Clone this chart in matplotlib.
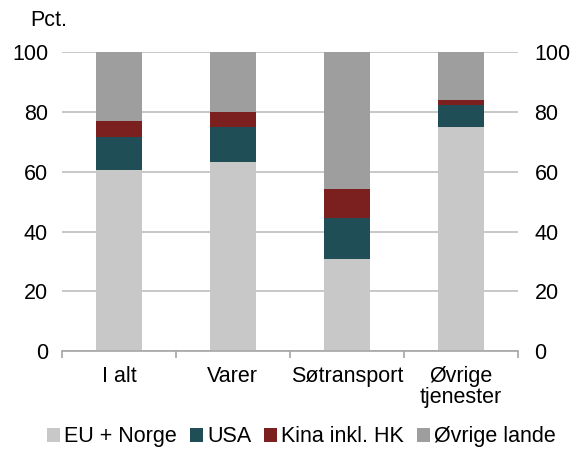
import numpy as np
import matplotlib
matplotlib.use("Agg")
import matplotlib.pyplot as plt
from matplotlib.ticker import FixedLocator

plt.rcParams['font.family'] = ['Liberation Sans', 'DejaVu Sans']

kategorier = ['I alt', 'Varer', 'Søtransport', 'Øvrige\ntjenester']
serier = ['EU + Norge', 'USA', 'Kina inkl. HK', 'Øvrige lande']
eu_norge = [60.6, 63.3, 30.7, 74.8]
usa = [11.1, 11.5, 13.8, 7.6]
kina = [5.2, 5.1, 9.6, 1.5]
ovrige = [23.1, 20.1, 45.9, 16.1]
farver = ['#c8c8c8', '#1f4e57', '#7b1f1f', '#9e9e9e']
fs = 15.5

fig = plt.figure(figsize=(5.74, 4.49), dpi=100)
ax = fig.add_axes([0.108, 0.218, 0.794, 0.666])

x = np.arange(len(kategorier))
bund = np.zeros(len(kategorier))
for navn, vals, farve in zip(serier, [eu_norge, usa, kina, ovrige], farver):
    ax.bar(x, vals, width=0.4, bottom=bund, color=farve, label=navn, zorder=3)
    bund += np.array(vals)

ax.set_xlim(-0.5, 3.5)
ax.set_ylim(0, 100)
ax.set_yticks(range(0, 101, 20))
ax.yaxis.grid(True, color='#bfbfbf', linewidth=1.2, zorder=0)
ax.tick_params(axis='y', length=0, labelsize=fs, pad=10)

# højre akse med samme skala
ax2 = ax.twinx()
ax2.set_ylim(ax.get_ylim())
ax2.set_yticks(range(0, 101, 20))
ax2.tick_params(axis='y', length=0, labelsize=fs, pad=12)

ax.set_xticks(x)
ax.set_xticklabels(kategorier, fontsize=fs, linespacing=0.95)
ax.tick_params(axis='x', which='major', length=0, pad=11)
ax.xaxis.set_minor_locator(FixedLocator([-0.5, 0.5, 1.5, 2.5, 3.5]))
ax.tick_params(axis='x', which='minor', length=5, color='#a6a6a6', width=1.2)

for a in [ax, ax2]:
    for side in ['top', 'left', 'right']:
        a.spines[side].set_visible(False)
ax2.spines['bottom'].set_visible(False)
ax.spines['bottom'].set_color('#a6a6a6')
ax.spines['bottom'].set_linewidth(1.2)
ax.spines['bottom'].set_zorder(4)

fig.text(0.052, 0.955, 'Pct.', fontsize=fs, va='center', ha='left')

fig.legend(loc='center', bbox_to_anchor=(0.525, 0.027), ncol=4, frameon=False,
           fontsize=fs, handlelength=0.6, handleheight=0.6, handletextpad=0.2,
           columnspacing=0.6, borderpad=0)

fig.savefig('out.png', dpi=100)
